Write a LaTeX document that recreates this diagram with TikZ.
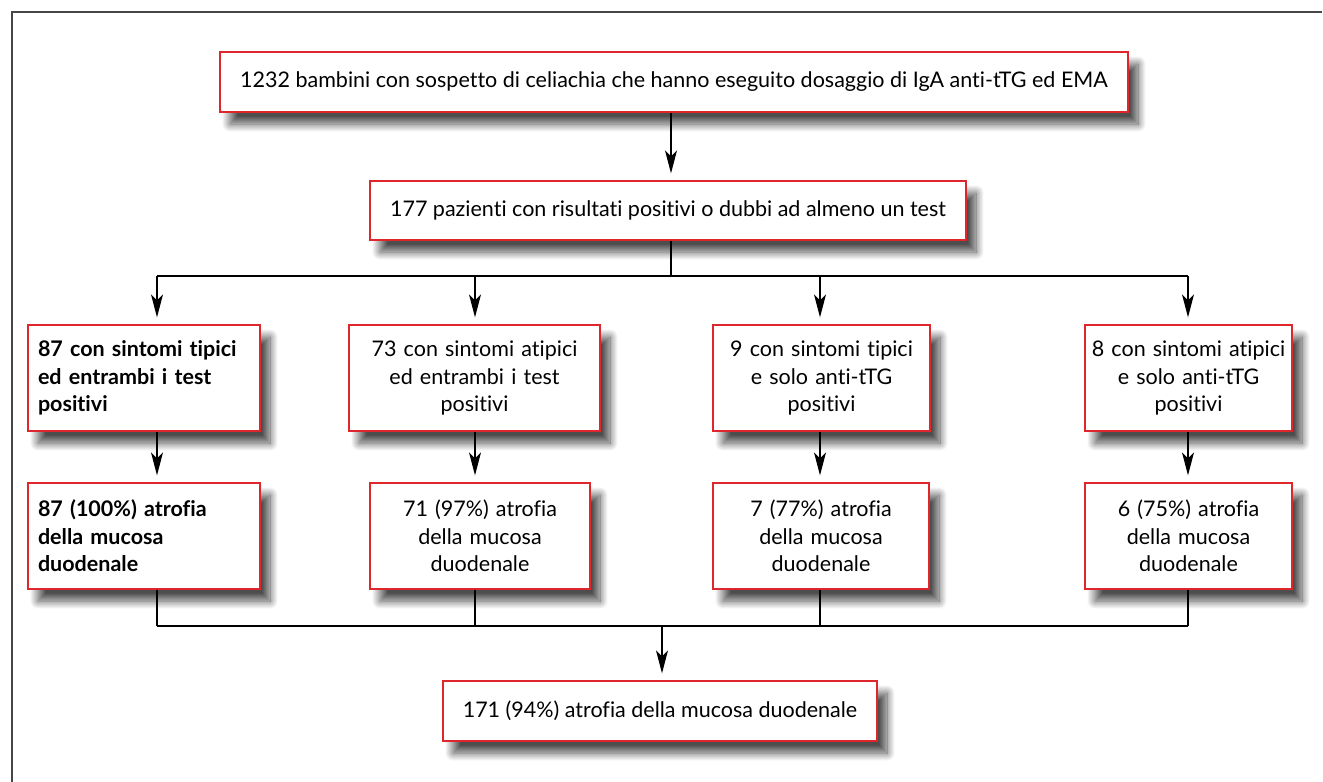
\documentclass[tikz,border=0pt]{standalone}
\usepackage{fontspec}
\setmainfont[Ligatures=NoCommon]{Lato}
\usetikzlibrary{arrows.meta,shadows.blur}
\definecolor{boxred}{RGB}{222,38,44}
\definecolor{framegray}{RGB}{70,70,70}
\tikzset{
  flowbox/.style={draw=boxred, line width=1.3pt, fill=white, inner sep=4pt,
    minimum height=106pt,
    blur shadow={shadow xshift=10pt, shadow yshift=-12pt, shadow blur steps=16,
      shadow blur radius=8pt, shadow opacity=70},
    font=\fontsize{21.5}{27.5}\selectfont},
  widebox/.style={flowbox, minimum height=60pt},
  conn/.style={draw=black, line width=1.4pt},
  arr/.style={conn, -{Stealth[length=23pt,width=12pt,inset=6pt]}, shorten >=7pt},
}
\begin{document}
\begin{tikzpicture}[x=1pt,y=-1pt]
\useasboundingbox (0,0) rectangle (1323,782);
\draw[framegray, line width=2.5pt] (1322,12) -- (12,12) -- (12,782);

\node[widebox, minimum width=908pt] (top) at (674,82)
  {1232 bambini con sospetto di celiachia che hanno eseguito dosaggio di IgA anti-tTG ed EMA};
\node[widebox, minimum width=596pt, minimum height=59pt] (mid) at (668,210.5)
  {177 pazienti con risultati positivi o dubbi ad almeno un test};

\node[flowbox, minimum width=232pt, text width=212pt, align=left] (r1a) at (144,378)
  {\bfseries 87 con sintomi tipici\\ed entrambi i test\\positivi};
\node[flowbox, minimum width=251pt, text width=240pt, align=center] (r1b) at (474.5,378)
  {73 con sintomi atipici\\ed entrambi i test\\positivi};
\node[flowbox, minimum width=217pt, text width=205pt, align=center] (r1c) at (821.5,378)
  {9 con sintomi tipici\\e solo anti-tTG\\positivi};
\node[flowbox, minimum width=207pt, text width=195pt, align=center] (r1d) at (1188.5,378)
  {8 con sintomi atipici\\e solo anti-tTG\\positivi};

\node[flowbox, minimum width=232pt, text width=212pt, align=left] (r2a) at (144,536)
  {\bfseries 87 (100\%) atrofia\\della mucosa\\duodenale};
\node[flowbox, minimum width=220pt, text width=208pt, align=center] (r2b) at (480,536)
  {71 (97\%) atrofia\\della mucosa\\duodenale};
\node[flowbox, minimum width=216pt, text width=204pt, align=center] (r2c) at (821,536)
  {7 (77\%) atrofia\\della mucosa\\duodenale};
\node[flowbox, minimum width=207pt, text width=195pt, align=center] (r2d) at (1188.5,536)
  {6 (75\%) atrofia\\della mucosa\\duodenale};

\node[widebox, minimum width=434pt] (bot) at (660,711)
  {171 (94\%) atrofia della mucosa duodenale};

\coordinate (tx) at (671,0);
\coordinate (split) at (671,276);
\coordinate (join) at (662,626);
\coordinate (c1) at (157,0);
\coordinate (c2) at (475,0);
\coordinate (c3) at (820,0);
\coordinate (c4) at (1188,0);

\draw[arr] (top.south -| tx) -- (mid.north -| tx);
\draw[conn] (mid.south -| tx) -- (split);
\draw[conn] (c1 |- split) -- (c4 |- split);
\draw[arr] (c1 |- split) -- (c1 |- r1a.north);
\draw[arr] (c2 |- split) -- (c2 |- r1b.north);
\draw[arr] (c3 |- split) -- (c3 |- r1c.north);
\draw[arr] (c4 |- split) -- (c4 |- r1d.north);

\draw[arr] (c1 |- r1a.south) -- (c1 |- r2a.north);
\draw[arr] (c2 |- r1b.south) -- (c2 |- r2b.north);
\draw[arr] (c3 |- r1c.south) -- (c3 |- r2c.north);
\draw[arr] (c4 |- r1d.south) -- (c4 |- r2d.north);

\draw[conn] (c1 |- r2a.south) -- (c1 |- join);
\draw[conn] (c2 |- r2b.south) -- (c2 |- join);
\draw[conn] (c3 |- r2c.south) -- (c3 |- join);
\draw[conn] (c4 |- r2d.south) -- (c4 |- join);
\draw[conn] (c1 |- join) -- (c4 |- join);
\draw[arr] (join) -- (bot.north -| join);
\end{tikzpicture}
\end{document}
